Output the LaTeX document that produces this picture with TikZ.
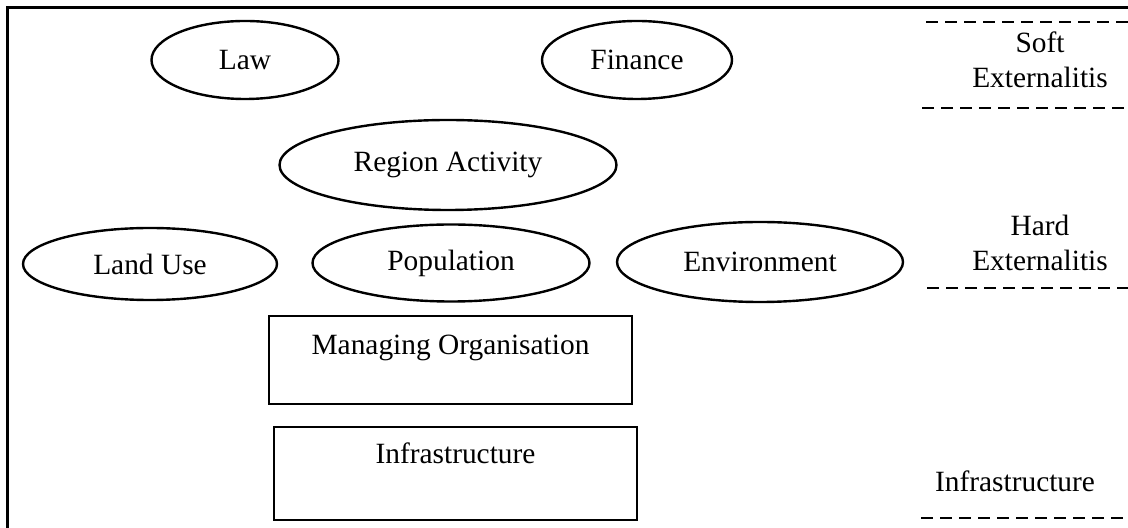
\documentclass[tikz,border=0pt]{standalone}
\usepackage{fontspec}
\setmainfont{Liberation Serif}
\usetikzlibrary{positioning}
\usetikzlibrary{shapes.geometric}

\begin{document}
\begin{tikzpicture}[x=0.5pt,y=-0.5pt,
    font=\fontsize{14.7}{17.5}\selectfont,
    oval/.style={draw, ellipse, line width=1.2pt, inner sep=0pt},
    box/.style={draw, rectangle, line width=1.3pt, inner sep=0pt},
    level/.style={dashed, dash pattern=on 6pt off 3.5pt, line width=1.1pt},
    side/.style={align=center, inner sep=0pt}]
      \useasboundingbox (0,0) rectangle (1128,528);

      % frame
      \coordinate (TR) at (1128,8);
      \coordinate (TL) at (7,8);
      \coordinate (BL) at (7,528);
      \draw[line width=1.5pt] (TR) -- (TL) -- (BL);

      % soft externalities
      \node[oval, minimum width=93.5pt, minimum height=39pt] (law) at (245,60) {Law};
      \node[oval, minimum width=95pt, minimum height=39pt] (finance) at (637,60) {Finance};

      % hard externalities
      \node[oval, minimum width=168.5pt, minimum height=45pt] (region) at (448,165) {Region Activity};
      \node[oval, minimum width=127pt, minimum height=36pt] (landuse) at (150,264) {Land Use};
      \node[oval, minimum width=138.5pt, minimum height=38.5pt] (population) at (451,263) {Population};
      \node[oval, minimum width=143pt, minimum height=40pt] (environment) at (760,262) {Environment};

      % infrastructure
      \node[box, minimum width=181.5pt, minimum height=44pt,
            label={[anchor=center, yshift=-16.5pt]north:Managing Organisation}] (managing) at (450.5,360) {};
      \node[box, minimum width=181.5pt, minimum height=46.5pt,
            label={[anchor=center, yshift=-14pt]north:Infrastructure}] (infra) at (455.5,473.5) {};

      % levels
      \coordinate (s1) at (926,22);  \coordinate (s2) at (1128,22);
      \coordinate (h1) at (922,108); \coordinate (h2) at (1128,108);
      \coordinate (i1) at (927,288); \coordinate (i2) at (1128,288);
      \coordinate (e1) at (921,518); \coordinate (e2) at (1128,518);
      \draw[level] (s1) -- (s2);
      \draw[level] (h1) -- (h2);
      \draw[level] (i1) -- (i2);
      \draw[level] (e1) -- (e2);

      \node[side] (softlabel) at (1040,60) {Soft\\Externalitis};
      \node[side] (hardlabel) at (1040,243) {Hard\\Externalitis};
      \node[side] (infralabel) at (1015,481) {Infrastructure};
    \end{tikzpicture}
\end{document}
